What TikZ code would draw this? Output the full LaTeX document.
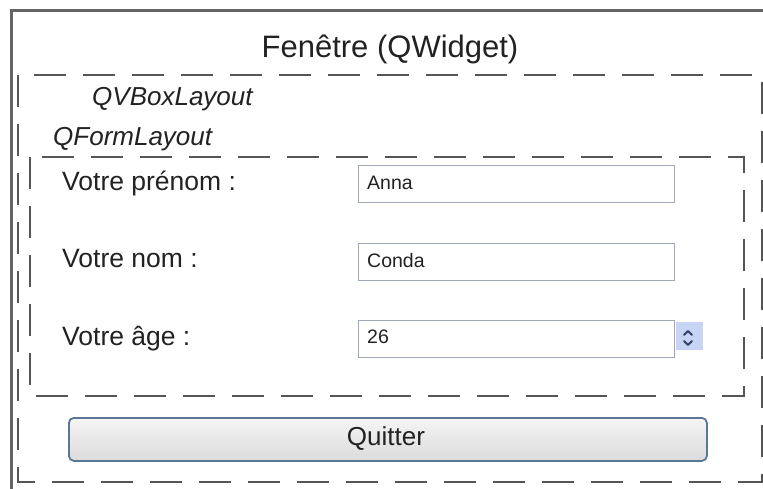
\documentclass[tikz,border=0pt]{standalone}
\usepackage{fontspec}
\setmainfont{Liberation Sans}
\definecolor{txt}{RGB}{34,34,34}
\definecolor{frame}{RGB}{100,100,100}
\definecolor{dashc}{RGB}{85,85,85}
\definecolor{fieldb}{RGB}{160,170,182}
\definecolor{spinf}{RGB}{200,212,244}
\definecolor{spinc}{RGB}{50,66,100}
\definecolor{btnb}{RGB}{90,120,150}
\tikzset{
  layoutbox/.style={draw=dashc, line width=2.6pt, dash pattern=on 32pt off 17pt},
  lbl/.style={inner sep=0pt, anchor=base west, text=txt, font=\fontsize{26.5}{30}\selectfont},
  lay/.style={inner sep=0pt, anchor=base west, text=txt, font=\fontsize{26}{30}\selectfont\itshape},
  field/.style={draw=fieldb, line width=1.3pt, fill=white, inner sep=0pt, anchor=north west, minimum width=316pt, minimum height=37pt},
  ftext/.style={inner sep=0pt, anchor=base west, text=txt, font=\fontsize{19.5}{24}\selectfont},
  chev/.style={draw=spinc, line width=2pt, line cap=round, line join=round},
}
\begin{document}
\begin{tikzpicture}[x=1pt,y=-1pt]
\useasboundingbox[fill=white] (0,0) rectangle (763,488);
% window frame
\draw[frame, line width=3pt] (11,490) -- (11,10) -- (765,10);
\node[inner sep=0pt, anchor=base, text=txt, font=\fontsize{31}{36}\selectfont] (title) at (390,57) {Fenêtre (QWidget)};
% layouts
\draw[layoutbox] (18,75) rectangle (762,482);
\node[lay] (vbox) at (92,105) {QVBoxLayout};
\node[lay] (form) at (53,145) {QFormLayout};
\draw[layoutbox] (30,157) rectangle (744,396);
% labels
\node[lbl] (l1) at (62,190) {Votre prénom :};
\node[lbl] (l2) at (62,267) {Votre nom :};
\node[lbl] (l3) at (62,345) {Votre âge :};
% fields
\node[field] (f1) at (358,165) {};
\node[field] (f2) at (358,243) {};
\node[field] (f3) at (358,320) {};
\node[ftext] (t1) at (367,189) {Anna};
\node[ftext] (t2) at (367,267) {Conda};
\node[ftext] (t3) at (367,343) {26};
% spin box
\node[fill=spinf, inner sep=0pt, minimum width=27pt, minimum height=28pt, anchor=north west] (spin) at (676,322) {};
\draw[chev] (684,335) -- (688,331) -- (692,335);
\draw[chev] (684,341) -- (688,345) -- (692,341);
% button
\node[draw=btnb, line width=1.8pt, rounded corners=5pt, top color=white!96!black, bottom color=white!86!black, minimum width=638pt, minimum height=43pt, inner sep=0pt, anchor=north west] (quit) at (68,417) {};
\node[inner sep=0pt, anchor=base, text=txt, font=\fontsize{26}{30}\selectfont] (qt) at (386,445) {Quitter};
\end{tikzpicture}
\end{document}
